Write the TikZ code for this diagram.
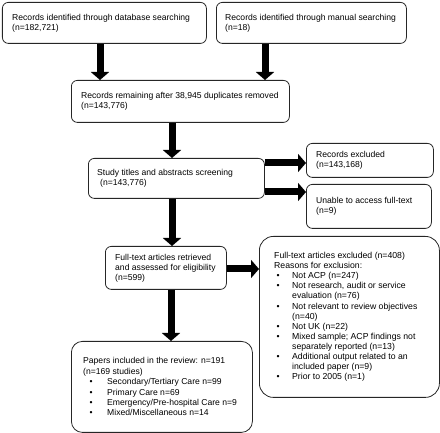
\documentclass[tikz,border=0pt]{standalone}
\usepackage{fontspec}
\setmainfont{Liberation Sans}
\usetikzlibrary{arrows.meta}
\newcommand{\bl}[2]{\makebox[#1][l]{}\makebox[#2][l]{•}}
\newcommand{\cl}[1]{\makebox[#1][l]{}}
\begin{document}
\begin{tikzpicture}[x=1pt,y=-1pt,
  box/.style={draw=black!85, line width=0.8pt, rounded corners=6pt, anchor=north west, inner sep=0pt},
  txt/.style={anchor=west, align=left, inner sep=0pt, font=\fontsize{8.6}{10}\selectfont, text=black},
  fat/.style={line width=7pt, -{Triangle[width=18pt,length=8pt]}}
]
\useasboundingbox (0,0) rectangle (440,433);
% boxes
\node[box, minimum width=204pt, minimum height=41pt] (b1) at (2,2) {};
\node[box, minimum width=190pt, minimum height=41pt] (b2) at (216,2) {};
\node[box, minimum width=218pt, minimum height=42pt] (b3) at (71,80) {};
\node[box, minimum width=176pt, minimum height=40pt] (b4) at (88,158) {};
\node[box, minimum width=127pt, minimum height=34pt] (b4a) at (306,143) {};
\node[box, minimum width=125pt, minimum height=44pt] (b4b) at (306,184) {};
\node[box, minimum width=121pt, minimum height=43pt] (b5) at (105,246) {};
\node[box, rounded corners=11pt, minimum width=181pt, minimum height=91pt] (b6) at (71,341) {};
\node[box, rounded corners=14pt, minimum width=180pt, minimum height=161pt] (b7) at (259,236) {};
% texts
\node[txt] (t1) at ([xshift=10pt]b1.west) {Records identified through database searching\\(n=182,721)};
\node[txt] (t2) at ([xshift=9pt]b2.west) {Records identified through manual searching\\(n=18)};
\node[txt] (t3) at ([xshift=10pt]b3.west) {Records remaining after 38,945 duplicates removed\\(n=143,776)};
\node[txt] (t4) at ([xshift=9pt]b4.west) {Study titles and abstracts screening\\\cl{3pt}(n=143,776)};
\node[txt] (t4a) at ([xshift=10pt]b4a.west) {Records excluded\\(n=143,168)};
\node[txt] (t4b) at ([xshift=10pt]b4b.west) {Unable to access full-text\\(n=9)};
\node[txt] (t5) at ([xshift=10pt]b5.west) {Full-text articles retrieved\\and assessed for eligibility\\(n=599)};
\node[txt, font=\fontsize{8.6}{10.4}\selectfont] (t6) at ([xshift=12pt]b6.west) {Papers included in the review: n=191\\(n=169 studies)\\
\bl{6.5pt}{17.5pt}Secondary/Tertiary Care n=99\\
\bl{6.5pt}{17.5pt}Primary Care n=69\\
\bl{6.5pt}{17.5pt}Emergency/Pre-hospital Care n=9\\
\bl{6.5pt}{17.5pt}Mixed/Miscellaneous n=14};
\node[txt, font=\fontsize{8.7}{10.1}\selectfont] (t7) at ([xshift=15pt]b7.west) {Full-text articles excluded (n=408)\\Reasons for exclusion:\\
\bl{2.5pt}{15.5pt}Not ACP (n=247)\\
\bl{2.5pt}{15.5pt}Not research, audit or service\\
\cl{18pt}evaluation (n=76)\\
\bl{2.5pt}{15.5pt}Not relevant to review objectives\\
\cl{18pt}(n=40)\\
\bl{2.5pt}{15.5pt}Not UK (n=22)\\
\bl{2.5pt}{15.5pt}Mixed sample; ACP findings not\\
\cl{18pt}separately reported (n=13)\\
\bl{2.5pt}{15.5pt}Additional output related to an\\
\cl{18pt}included paper (n=9)\\
\bl{2.5pt}{15.5pt}Prior to 2005 (n=1)};
% arrow guide coordinates
\coordinate (xa) at (100,0);
\coordinate (xb) at (265,0);
\coordinate (xc) at (172,0);
\coordinate (xd) at (171,0);
\coordinate (ya) at (0,163);
\coordinate (yb) at (0,192);
\coordinate (yc) at (0,269);
% arrows
\draw[fat] (b1.south -| xa) -- (b3.north -| xa);
\draw[fat] (b2.south -| xb) -- (b3.north -| xb);
\draw[fat] (b3.south -| xc) -- (b4.north -| xc);
\draw[fat] (b4.south -| xc) -- (b5.north -| xc);
\draw[fat] (b5.south -| xd) -- (b6.north -| xd);
\draw[fat] (b4.east |- ya) -- (b4a.west |- ya);
\draw[fat] (b4.east |- yb) -- (b4b.west |- yb);
\draw[fat] (b5.east |- yc) -- (b7.west |- yc);
\end{tikzpicture}
\end{document}
